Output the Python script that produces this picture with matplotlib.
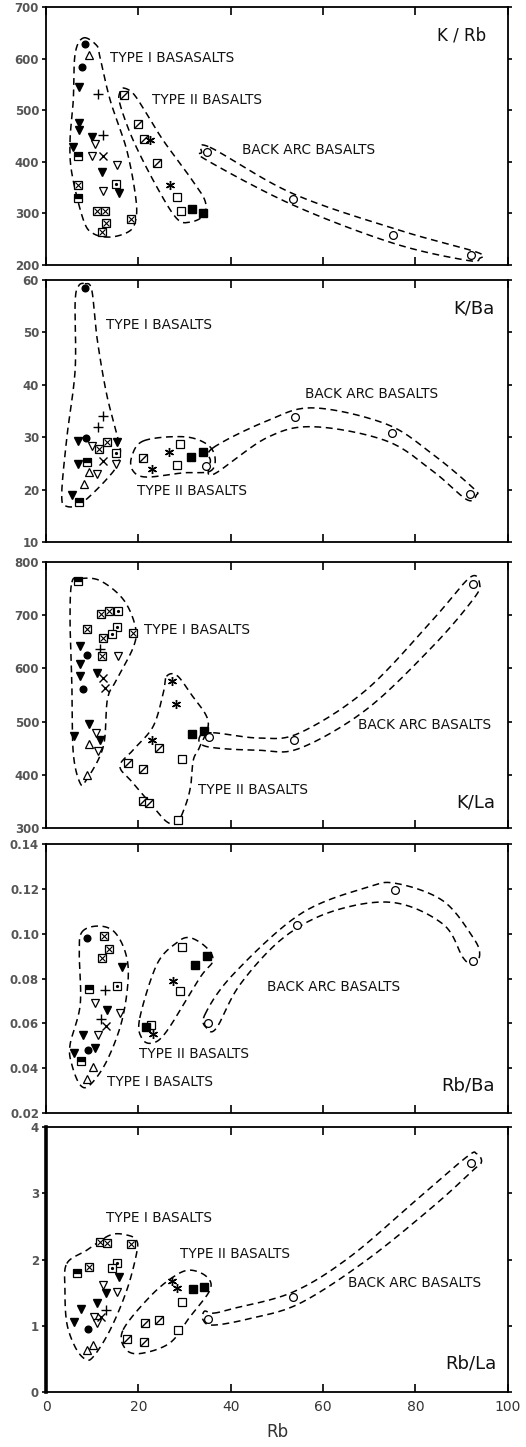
import numpy as np
import matplotlib
matplotlib.use("Agg")
import matplotlib.pyplot as plt
from matplotlib.path import Path

# ---- data (Rb on x, ratio on y); symbol codes per point ----
# dot=filled circle, tri=open up-triangle, vf=filled down-triangle, plus, x,
# vo=open down-triangle, sx=crossed square, sd=dotted square, sh=half-filled square,
# sdg=square with diagonal, ast=asterisk, so=open square, sf=filled square, oc=open circle

KRB_SYM = ["dot", "tri", "dot", "vf", "plus", "vf", "vf", "vf", "plus", "vo", "vf", "sh", "vo", "x",
           "vf", "vo", "sx", "vo", "sd", "vf", "sh", "sx", "sx", "sx", "sx", "sx",
           "sdg", "sdg", "sdg", "ast", "sdg", "ast", "so", "so", "sf", "sf",
           "oc", "oc", "oc", "oc"]
KRB_X = [8.4, 9.3, 7.7, 7.1, 11.3, 7.1, 7.1, 9.9, 12.3, 10.5, 5.8, 7.0, 9.9, 12.3,
         12.2, 15.3, 6.9, 12.3, 15.1, 15.8, 6.9, 11.1, 12.8, 13.0, 12.1, 18.3,
         16.9, 20.0, 21.2, 22.6, 24.0, 26.8, 28.3, 29.2, 31.6, 34.0,
         34.9, 53.5, 75.1, 92.0]
KRB_Y = [629, 606, 583, 544, 532, 476, 461, 447, 451, 435, 428, 412, 411, 412,
         380, 393, 354, 343, 356, 339, 329, 304, 304, 281, 264, 290,
         530, 474, 445, 443, 397, 354, 331, 304, 308, 301,
         418, 327, 258, 219]

KBA_SYM = ["dot", "plus", "plus", "dot", "vf", "vo", "sx", "sx", "vf", "sd", "vo", "x", "vf", "sh",
           "tri", "vo", "tri", "vf", "sh",
           "sdg", "ast", "ast", "so", "so", "sf", "sf",
           "oc", "oc", "oc", "oc"]
KBA_X = [8.4, 12.3, 11.3, 8.7, 7.0, 9.9, 11.5, 13.1, 15.3, 15.2, 15.2, 12.3, 7.0, 8.9,
         9.4, 11.0, 8.2, 5.6, 7.2,
         20.9, 22.9, 26.7, 29.0, 28.4, 31.3, 33.9,
         34.6, 53.9, 75.0, 91.8]
KBA_Y = [58.5, 34.1, 32.0, 29.8, 29.3, 28.3, 27.7, 29.0, 29.0, 26.9, 24.8, 25.4, 24.8, 25.3,
         23.4, 22.9, 21.1, 19.0, 17.7,
         26.0, 24.0, 27.2, 28.7, 24.7, 26.2, 27.2,
         24.5, 33.8, 30.9, 19.2]

KLA_SYM = ["sh", "sx", "sx", "sd", "sx", "sd", "sd", "sx", "sx", "vf", "dot", "plus", "sx", "vo",
           "vf", "vf", "vf", "x", "x", "dot", "vf", "vo", "vf", "vf", "tri", "vo", "tri",
           "ast", "ast", "ast", "sdg", "sdg", "sdg", "so", "sdg", "sdg", "so", "sf", "sf",
           "oc", "oc", "oc"]
KLA_X = [7.0, 11.8, 13.7, 15.5, 8.8, 15.4, 14.2, 12.4, 18.8, 7.4, 8.9, 11.7, 12.1, 15.5,
         7.4, 7.4, 11.1, 12.4, 12.8, 8.1, 9.4, 10.8, 11.7, 6.1, 9.4, 11.3, 8.8,
         27.2, 28.1, 22.9, 24.5, 17.7, 20.9, 29.4, 21.1, 22.4, 28.6, 31.5, 34.2,
         35.3, 53.7, 92.5]
KLA_Y = [765, 703, 707, 707, 675, 677, 665, 657, 667, 643, 626, 636, 623, 624,
         608, 585, 592, 582, 564, 562, 496, 479, 466, 472, 457, 444, 400,
         576, 534, 465, 450, 423, 411, 430, 350, 347, 315, 477, 482,
         471, 465, 758]

RBBA_SYM = ["dot", "sx", "sx", "sx", "vf", "sh", "plus", "sd", "vo", "vf", "vo", "plus", "x",
            "vf", "vo", "vf", "dot", "vf", "sh", "tri", "tri",
            "sf", "so", "ast", "ast", "so", "so", "sf", "sf",
            "oc", "oc", "oc", "oc"]
RBBA_X = [8.9, 12.6, 13.7, 12.1, 16.4, 9.2, 12.8, 15.4, 10.6, 13.1, 16.0, 11.9, 13.0,
          7.9, 11.3, 10.6, 9.0, 6.1, 7.6, 10.1, 8.9,
          21.6, 22.7, 23.2, 27.5, 29.1, 29.5, 32.3, 34.8,
          35.1, 54.3, 75.6, 92.4]
RBBA_Y = [0.098, 0.099, 0.093, 0.089, 0.085, 0.0755, 0.075, 0.0765, 0.069, 0.066, 0.0646, 0.062, 0.059,
          0.0546, 0.0549, 0.049, 0.048, 0.0467, 0.043, 0.0407, 0.0351,
          0.0586, 0.0594, 0.0552, 0.0788, 0.0746, 0.094, 0.086, 0.090,
          0.060, 0.104, 0.1194, 0.088]

RBLA_SYM = ["sx", "sx", "sx", "sh", "sx", "sd", "sd", "vf", "vo", "vo", "vf", "vf", "vf", "plus",
            "vo", "x", "vo", "vf", "dot", "tri", "tri",
            "ast", "ast", "sf", "sf", "so", "sdg", "sdg", "so", "sdg", "sdg",
            "oc", "oc", "oc"]
RBLA_X = [11.7, 13.3, 18.5, 6.8, 9.2, 15.4, 14.2, 15.9, 12.4, 15.4, 13.0, 11.1, 7.5, 13.0,
          10.3, 11.8, 11.1, 6.1, 9.0, 10.1, 8.8,
          27.2, 28.4, 31.8, 34.2, 29.4, 24.5, 21.4, 28.6, 17.6, 21.2,
          35.1, 53.4, 92.1]
RBLA_Y = [2.27, 2.25, 2.24, 1.80, 1.88, 1.95, 1.87, 1.74, 1.62, 1.51, 1.49, 1.34, 1.26, 1.24,
          1.14, 1.14, 1.04, 1.06, 0.95, 0.71, 0.64,
          1.67, 1.57, 1.55, 1.59, 1.36, 1.09, 1.04, 0.94, 0.80, 0.76,
          1.10, 1.43, 3.46]

# ---- hand-drawn group envelopes (outline vertices, data units) ----
ENV_KRB = [
    [(8.1, 640), (11.0, 625), (11.7, 602), (13.9, 519), (17.5, 422), (19.5, 325), (19.3, 283),
     (17.8, 264), (13.9, 254), (10.2, 261), (8.1, 287), (5.6, 377), (5.2, 441), (5.9, 519), (6.3, 609)],
    [(16.7, 543), (18.9, 532), (21.8, 493), (25.4, 441), (31.2, 370), (34.4, 325), (34.1, 296),
     (31.2, 283), (28.3, 290), (24.0, 351), (18.9, 441), (16.0, 512), (16.0, 535)],
    [(35.5, 428), (53.5, 338), (76.6, 267), (93.2, 225), (93.9, 213), (91.1, 209), (75.2, 242),
     (53.5, 316), (34.8, 403), (33.7, 418)],
]
ENV_KBA = [
    [(8.4, 59.3), (9.9, 58.1), (11.0, 49.2), (13.1, 38.3), (15.7, 29.3), (16.0, 26.7), (14.6, 23.5),
     (8.1, 17.7), (4.5, 16.8), (3.4, 19.0), (4.5, 29.9), (6.3, 42.8), (6.3, 55.6), (7.0, 58.8)],
    [(21.1, 29.3), (29.7, 30.1), (34.8, 28.7), (36.6, 26.1), (35.5, 23.5), (29.7, 23.2), (21.8, 22.4),
     (18.9, 23.5), (18.5, 26.1)],
    [(36.2, 28.0), (47.8, 33.1), (57.9, 35.6), (73.7, 32.5), (83.8, 26.7), (92.5, 20.3), (93.2, 19.0),
     (91.1, 18.1), (83.8, 23.5), (73.7, 29.3), (57.9, 32.0), (47.8, 29.9), (36.2, 22.9), (35.6, 25.5)],
]
ENV_KLA = [
    [(5.6, 762), (7.4, 769), (11.7, 765), (16.7, 730), (19.3, 680), (19.0, 642), (15.3, 579),
     (13.3, 542), (12.4, 453), (8.8, 391), (7.4, 384), (5.9, 441), (5.6, 567), (5.2, 692)],
    [(26.1, 585), (28.3, 587), (31.2, 554), (35.1, 501), (33.3, 453), (31.9, 428), (31.3, 378),
     (30.1, 340), (28.3, 309), (26.1, 312), (23.2, 340), (18.9, 384), (16.0, 416), (18.9, 447),
     (23.2, 491), (25.4, 554)],
    [(36.2, 479), (46.3, 469), (55.0, 479), (69.4, 560), (83.8, 692), (91.8, 771), (93.9, 758),
     (92.5, 730), (83.8, 642), (69.4, 523), (55.0, 450), (46.3, 446), (34.8, 453), (33.3, 472)],
]
ENV_RBBA = [
    [(7.7, 0.1005), (11.0, 0.1034), (14.6, 0.1012), (17.1, 0.0922), (17.8, 0.0803), (16.4, 0.0609),
     (13.1, 0.0430), (9.5, 0.0325), (7.4, 0.0325), (5.6, 0.0415), (5.2, 0.0504), (7.4, 0.0683),
     (7.2, 0.0907)],
    [(20.3, 0.0624), (24.0, 0.0863), (28.3, 0.0960), (31.2, 0.0982), (34.8, 0.0937), (36.1, 0.0878),
     (33.3, 0.0803), (26.1, 0.0564), (22.9, 0.0512), (20.7, 0.0535)],
    [(34.4, 0.0639), (40.5, 0.0818), (55.0, 0.1087), (69.4, 0.1206), (75.9, 0.1224), (86.0, 0.1146),
     (92.5, 0.0982), (93.9, 0.0907), (92.5, 0.0863), (90.3, 0.0893), (86.0, 0.1042), (75.2, 0.1139),
     (62.2, 0.1101), (51.4, 0.0982), (42.0, 0.0773), (36.9, 0.0579), (34.8, 0.0579)],
]
ENV_RBLA = [
    [(4.5, 1.94), (8.8, 2.14), (13.9, 2.37), (17.5, 2.37), (19.6, 2.29), (19.6, 2.09), (17.5, 1.54),
     (13.9, 0.94), (10.2, 0.53), (8.4, 0.50), (6.3, 0.68), (4.5, 1.04), (4.1, 1.54)],
    [(16.7, 0.94), (22.5, 1.44), (27.6, 1.74), (31.2, 1.84), (34.8, 1.74), (35.5, 1.54), (31.2, 1.14),
     (26.8, 0.74), (20.3, 0.58), (17.1, 0.66)],
    [(36.2, 1.19), (40.5, 1.26), (53.5, 1.51), (65.8, 2.04), (80.2, 2.90), (91.1, 3.55), (93.2, 3.60),
     (94.3, 3.48), (92.5, 3.35), (83.8, 2.80), (69.4, 1.99), (55.0, 1.34), (44.2, 1.11), (36.2, 1.01),
     (34.0, 1.09), (34.3, 1.22)],
]

# ---- marker styles ----
DIAG = Path([(-1, -1), (1, 1)])
SQ = dict(marker="s", mfc="white", mec="k", ms=5.4, mew=0.9)
STYLES = {
    "dot": [dict(marker="o", mfc="k", mec="k", ms=4.8)],
    "tri": [dict(marker="^", mfc="white", mec="k", ms=5.4, mew=0.9)],
    "vf": [dict(marker="v", mfc="k", mec="k", ms=6.0)],
    "vo": [dict(marker="v", mfc="white", mec="k", ms=6.0, mew=0.9)],
    "plus": [dict(marker="+", mec="k", ms=6.5, mew=1.0)],
    "x": [dict(marker="x", mec="k", ms=5.5, mew=1.0)],
    "sx": [SQ, dict(marker="x", mec="k", ms=4.4, mew=0.8)],
    "sd": [SQ, dict(marker="o", mfc="k", mec="k", ms=1.3)],
    "sh": [dict(marker="s", mfc="k", mfcalt="white", fillstyle="top", mec="k", ms=5.4, mew=0.9)],
    "sdg": [SQ, dict(marker=DIAG, mfc="none", mec="k", ms=4.8, mew=1.0)],
    "ast": [dict(marker=(6, 2, 0), mec="k", ms=6.5, mew=1.0)],
    "so": [SQ],
    "sf": [dict(marker="s", mfc="k", mec="k", ms=5.6)],
    "oc": [dict(marker="o", mfc="white", mec="k", ms=5.6, mew=0.9)],
}


def smooth_closed(pts, n=24):
    # closed Catmull-Rom curve through the outline vertices
    p = np.asarray(pts, float)
    m = len(p)
    t = np.linspace(0, 1, n, endpoint=False)[:, None]
    segs = []
    for i in range(m):
        p0, p1, p2, p3 = p[i - 1], p[i], p[(i + 1) % m], p[(i + 2) % m]
        segs.append(0.5 * (2 * p1 + (-p0 + p2) * t + (2 * p0 - 5 * p1 + 4 * p2 - p3) * t ** 2
                           + (-p0 + 3 * p1 - 3 * p2 + p3) * t ** 3))
    segs.append(p[:1])
    return np.vstack(segs)


def draw_panel(ax, xs, ys, syms, envs, ylim, yticks, yfmt, name, name_xy, labels, name_size=13):
    for env in envs:
        c = smooth_closed(env)
        ax.plot(c[:, 0], c[:, 1], color="k", lw=1.1, dashes=(4.5, 3))
    xs, ys, syms = np.array(xs), np.array(ys), np.array(syms)
    for s in STYLES:
        sel = syms == s
        if not sel.any():
            continue
        for st in STYLES[s]:
            ax.plot(xs[sel], ys[sel], linestyle="none", zorder=3, **st)
    for txt, x, y in labels:
        ax.text(x, y, txt, fontsize=9.8, va="center", ha="left", color="#111")
    ax.text(name_xy[0], name_xy[1], name, fontsize=name_size, ha="right", va="center", color="#111")
    ax.set_xlim(0, 100)
    ax.set_ylim(*ylim)
    ax.set_yticks(yticks)
    ax.set_yticklabels([yfmt.format(v) for v in yticks], fontsize=8.5, fontweight="bold", color="#555")
    ax.set_xticks([0, 20, 40, 60, 80, 100])
    ax.tick_params(axis="x", direction="in", top=True, bottom=True, length=6, width=1.2, labelbottom=False)
    ax.tick_params(axis="y", direction="out", left=True, length=3, width=1.2, pad=2)
    ax.tick_params(axis="y", which="major", right=True)
    for sp in ax.spines.values():
        sp.set_linewidth(1.3)


fig = plt.figure(figsize=(5.26, 14.47), dpi=100)
L, W = 0.0875, 0.878
ax1 = fig.add_axes([L, 0.8169, W, 0.1783])
ax2 = fig.add_axes([L, 0.6254, W, 0.1811])
ax3 = fig.add_axes([L, 0.4278, W, 0.1838])
ax4 = fig.add_axes([L, 0.2308, W, 0.1859])
ax5 = fig.add_axes([L, 0.0380, W, 0.1831])

draw_panel(ax1, KRB_X, KRB_Y, KRB_SYM, ENV_KRB, (200, 700), range(200, 701, 100), "{:d}",
           "K / Rb", (95.2, 644),
           [("TYPE I BASASALTS", 13.9, 602), ("TYPE II BASALTS", 22.9, 519),
            ("BACK ARC BASALTS", 42.4, 422)], name_size=12)
draw_panel(ax2, KBA_X, KBA_Y, KBA_SYM, ENV_KBA, (10, 60), range(10, 61, 10), "{:d}",
           "K/Ba", (97.2, 54.6),
           [("TYPE I BASALTS", 13.0, 51.4), ("BACK ARC BASALTS", 56.1, 38.3),
            ("TYPE II BASALTS", 19.8, 19.8)])
draw_panel(ax3, KLA_X, KLA_Y, KLA_SYM, ENV_KLA, (300, 800), range(300, 801, 100), "{:d}",
           "K/La", (97.2, 347),
           [("TYPE I BASALTS", 21.2, 672), ("BACK ARC BASALTS", 67.6, 494),
            ("TYPE II BASALTS", 33.0, 372)])
draw_panel(ax4, RBBA_X, RBBA_Y, RBBA_SYM, ENV_RBBA, (0.02, 0.14), np.arange(0.02, 0.141, 0.02), "{:.2f}",
           "Rb/Ba", (97.2, 0.0325),
           [("BACK ARC BASALTS", 47.8, 0.0761), ("TYPE II BASALTS", 20.2, 0.0463),
            ("TYPE I BASALTS", 13.3, 0.0340)])
draw_panel(ax5, RBLA_X, RBLA_Y, RBLA_SYM, ENV_RBLA, (0, 4), range(0, 5), "{:d}",
           "Rb/La", (97.5, 0.43),
           [("TYPE I BASALTS", 13.0, 2.62), ("TYPE II BASALTS", 29.0, 2.09),
            ("BACK ARC BASALTS", 65.4, 1.65)])

ax5.tick_params(axis="x", labelbottom=True, labelsize=10, labelcolor="#333", pad=6)
ax5.set_xlabel("Rb", fontsize=12, color="#333", labelpad=6)
ax5.spines["left"].set_linewidth(2.6)

fig.savefig("out.png", dpi=100)
